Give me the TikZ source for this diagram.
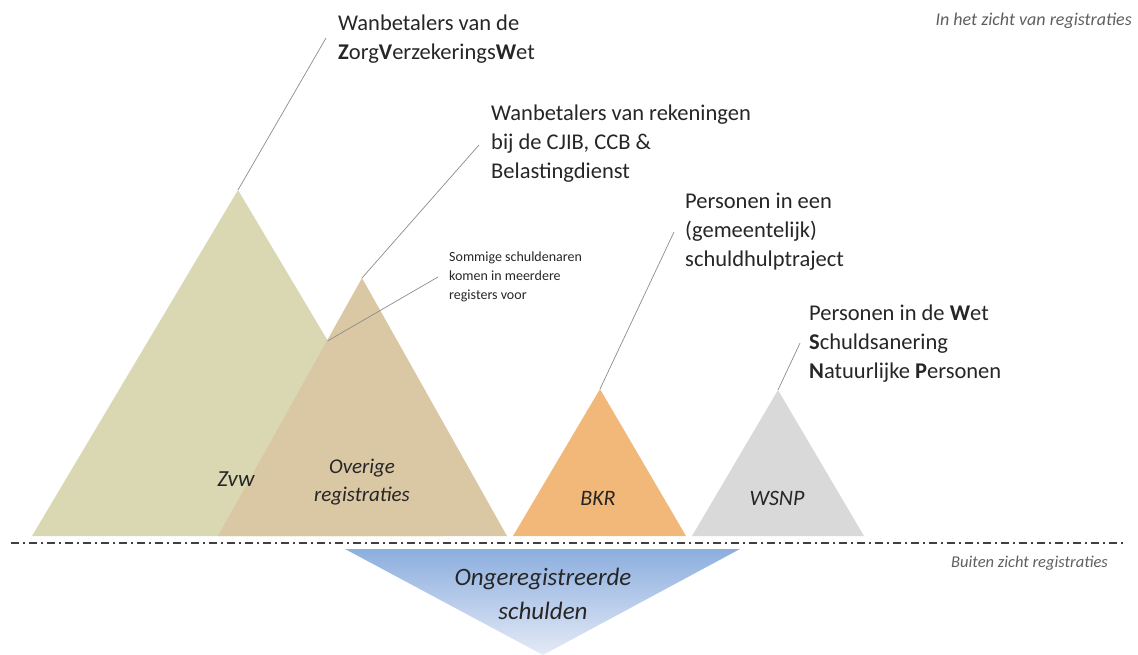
\documentclass[tikz,border=0pt]{standalone}
\usepackage{fontspec}
\setmainfont{Carlito}
\definecolor{zvwfill}{RGB}{217,216,179}
\definecolor{ovfill}{RGB}{218,199,163}
\definecolor{bkrfill}{RGB}{242,184,121}
\definecolor{wsnpfill}{RGB}{217,217,217}
\definecolor{hiddentop}{RGB}{140,174,222}
\definecolor{hiddenbot}{RGB}{228,234,247}
\definecolor{inktext}{RGB}{38,38,38}
\definecolor{notetext}{RGB}{95,95,95}
\begin{document}
\begin{tikzpicture}[x=1pt,y=-1pt,
  leader/.style={draw=black!45, line width=0.7pt},
  divider/.style={draw=black!75, line width=1.6pt, dash pattern=on 8pt off 4pt on 2pt off 4pt},
  callout/.style={anchor=north west, inner sep=0pt, align=left, text=inktext,
    font=\fontsize{22.5}{29}\selectfont, execute at begin node=\strut},
  smallnote/.style={anchor=north west, inner sep=0pt, align=left, text=inktext,
    font=\fontsize{14}{19}\selectfont, execute at begin node=\strut},
  peaklabel/.style={anchor=base, inner sep=0pt, align=center, text=inktext},
  zonelabel/.style={anchor=base east, inner sep=0pt, text=notetext}
]
\useasboundingbox (0,0) rectangle (1138,655);

% corner points of the four peaks
\coordinate (zvwL) at (32,536);   \coordinate (zvwTop) at (238,190);  \coordinate (zvwR) at (444,536);
\coordinate (ovL) at (218,536);   \coordinate (ovTop) at (362,278);   \coordinate (ovR) at (507,536);
\coordinate (bkrL) at (513,536);  \coordinate (bkrTop) at (600,389);  \coordinate (bkrR) at (686,536);
\coordinate (wsnpL) at (692,536); \coordinate (wsnpTop) at (778,390); \coordinate (wsnpR) at (864,536);
% where the two left peaks overlap
\coordinate (overlap) at (327.5,341);
% the hidden part below the line
\coordinate (hidL) at (345,549); \coordinate (hidR) at (740,549); \coordinate (hidTip) at (543,655);
% ends of the divider
\coordinate (divL) at (11,543); \coordinate (divR) at (1126,543);

% peaks
\fill[zvwfill] (zvwL) -- (zvwTop) -- (zvwR) -- cycle;
\fill[ovfill] (ovL) -- (ovTop) -- (ovR) -- cycle;
\fill[bkrfill] (bkrL) -- (bkrTop) -- (bkrR) -- cycle;
\fill[wsnpfill] (wsnpL) -- (wsnpTop) -- (wsnpR) -- cycle;

% unregistered debts
\shade[top color=hiddentop, bottom color=hiddenbot] (hidL) -- (hidR) -- (hidTip) -- cycle;

% divider between visible and invisible
\draw[divider] (divL) -- (divR);

% peak labels
\node[peaklabel, font=\fontsize{23}{28}\itshape] (zvw) at (236,486) {Zvw};
\node[peaklabel, font=\fontsize{21}{28}\itshape, anchor=north] (ov) at (362,454) {\strut Overige\\registraties};
\node[peaklabel, font=\fontsize{22}{28}\itshape] (bkr) at (598,505) {BKR};
\node[peaklabel, font=\fontsize{22}{28}\itshape] (wsnp) at (777,505) {WSNP};
\node[peaklabel, font=\fontsize{25}{34}\itshape, anchor=north] (hidden) at (543,561) {\strut Ongeregistreerde\\schulden};

% callouts
\node[callout] (cZvw) at (338,14.5) {Wanbetalers van de\\\textbf{Z}org\textbf{V}erzekerings\textbf{W}et};
\node[callout] (cOv) at (491,105) {Wanbetalers van rekeningen\\bij de CJIB, CCB \&\\Belastingdienst};
\node[callout] (cBkr) at (685,192.5) {Personen in een\\(gemeentelijk)\\schuldhulptraject};
\node[callout, font=\fontsize{22.5}{29}\selectfont] (cWsnp) at (809,305) {Personen in de \textbf{W}et\\\textbf{S}chuldsanering\\\textbf{N}atuurlijke \textbf{P}ersonen};
\node[smallnote] (cOverlap) at (449,252) {Sommige schuldenaren\\komen in meerdere\\registers voor};

% zone labels
\node[zonelabel, font=\fontsize{18}{22}\itshape] (visible) at (1132,26) {In het zicht van registraties};
\node[zonelabel, font=\fontsize{16.5}{20}\itshape] (invisible) at (1108,567) {Buiten zicht registraties};

% leader lines
\coordinate (cZvwEnd) at (326,38);
\coordinate (cOvEnd) at (479,145);
\coordinate (cBkrEnd) at (674,232);
\coordinate (cWsnpEnd) at (800,343);
\coordinate (cOverlapEnd) at (438,277);
\draw[leader] (zvwTop) -- (cZvwEnd);
\draw[leader] (ovTop) -- (cOvEnd);
\draw[leader] (bkrTop) -- (cBkrEnd);
\draw[leader] (wsnpTop) -- (cWsnpEnd);
\draw[leader] (overlap) -- (cOverlapEnd);
\end{tikzpicture}
\end{document}
